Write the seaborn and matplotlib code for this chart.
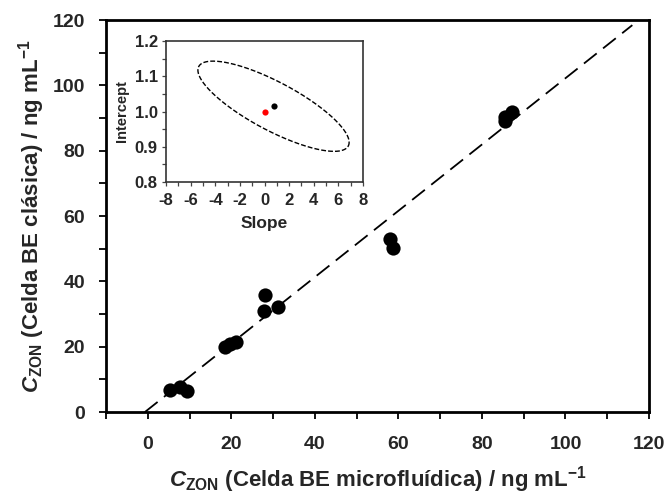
import numpy as np
import pandas as pd
import matplotlib
matplotlib.use("Agg")
import matplotlib.pyplot as plt
from matplotlib.ticker import MultipleLocator
import seaborn as sns

# Paired determinations: microfluidic cell (x) vs classic cell (y), ng/mL
micro = [5.3, 7.7, 9.3, 18.5, 19.6, 21.0, 28.0, 27.8, 31.1, 58.0, 58.7, 85.5, 85.4, 87.3]
clasica = [6.8, 7.7, 6.5, 20.0, 20.8, 21.5, 35.8, 31.0, 32.1, 53.0, 50.2, 89.0, 90.4, 91.8]

# Fitted regression line (slope, intercept)
fit_slope = 1.015
fit_intercept = 0.7
line_x_range = [-0.7, 116.0]

# Inset: joint confidence region (centre, half-widths, correlation)
ell_center_x = 0.73
ell_center_y = 1.015
ell_half_x = 6.14
ell_half_y = 0.128
ell_corr = -0.80
ideal_point = (0.0, 1.0)

sns.set_theme(style="ticks")
plt.rcParams["font.family"] = ["Liberation Sans", "DejaVu Sans"]
plt.rcParams["font.weight"] = "bold"
plt.rcParams["axes.unicode_minus"] = False
plt.rcParams["mathtext.fontset"] = "custom"
plt.rcParams["mathtext.rm"] = "Liberation Sans:bold"
plt.rcParams["mathtext.bf"] = "Liberation Sans:bold"
plt.rcParams["mathtext.it"] = "Liberation Sans:italic:bold"
plt.rcParams["mathtext.sf"] = "Liberation Sans:bold"

fig = plt.figure(figsize=(6.68, 5.01), dpi=100)
ax = fig.add_axes([0.1587, 0.1776, 0.8129, 0.7824])

df = pd.DataFrame({"micro": micro, "clasica": clasica})
sns.scatterplot(data=df, x="micro", y="clasica", ax=ax, color="black",
                s=105, edgecolor="black", linewidth=0, zorder=3)

lx = np.array(line_x_range)
ly = fit_intercept + fit_slope * lx
sns.lineplot(x=lx, y=ly, ax=ax, color="black", linewidth=1.3,
             dashes=False, zorder=2)
ax.lines[-1].set_dashes((9, 4.5))

ax.set_xlim(-10, 120)
ax.set_ylim(0, 120)
ax.xaxis.set_major_locator(MultipleLocator(20))
ax.xaxis.set_minor_locator(MultipleLocator(10))
ax.yaxis.set_major_locator(MultipleLocator(20))
ax.yaxis.set_minor_locator(MultipleLocator(10))
ax.tick_params(axis="both", which="both", direction="out", length=5,
               width=1.3, color="black", labelsize=14, pad=10)
ax.tick_params(axis="x", which="major", pad=12)
for lab in ax.get_xticklabels() + ax.get_yticklabels():
    lab.set_fontweight("bold")
for sp in ax.spines.values():
    sp.set_linewidth(2.0)
    sp.set_color("black")

ax.set_xlabel(r"$\mathit{C}_{\mathrm{ZON}}$ (Celda BE microfluídica) / ng mL$^{\mathrm{-1}}$",
              fontsize=16, fontweight="bold", labelpad=8)
ax.set_ylabel(r"$\mathit{C}_{\mathrm{ZON}}$ (Celda BE clásica) / ng mL$^{\mathrm{-1}}$",
              fontsize=16, fontweight="bold", labelpad=4)

# Inset with the slope/intercept joint confidence region
ins = fig.add_axes([0.2485, 0.6367, 0.295, 0.2814])
t = np.linspace(0, 2 * np.pi, 400)
psi = np.arccos(ell_corr)
ex = ell_center_x + ell_half_x * np.cos(t)
ey = ell_center_y + ell_half_y * np.cos(t + psi)
ins.plot(ex, ey, color="black", linewidth=1.0, dashes=(3.5, 1.5))
sns.scatterplot(x=[ell_center_x], y=[ell_center_y], ax=ins, color="black",
                s=20, linewidth=0, zorder=3)
sns.scatterplot(x=[ideal_point[0]], y=[ideal_point[1]], ax=ins, color="red",
                s=20, linewidth=0, zorder=3)

ins.set_xlim(-8, 8)
ins.set_ylim(0.8, 1.2)
ins.xaxis.set_major_locator(MultipleLocator(2))
ins.xaxis.set_minor_locator(MultipleLocator(1))
ins.yaxis.set_minor_locator(MultipleLocator(0.05))
ins.set_yticks([0.8, 0.9, 1.0, 1.1, 1.2])
ins.set_yticklabels(["0.8", "0.9", "1.0", "1.1", "1.2"])
ins.tick_params(axis="both", which="both", direction="out", length=3,
                width=0.9, color="#444444", labelsize=12, pad=3)
ins.tick_params(axis="x", which="major", pad=5)
for lab in ins.get_xticklabels() + ins.get_yticklabels():
    lab.set_fontweight("bold")
for sp in ins.spines.values():
    sp.set_linewidth(1.2)
    sp.set_color("#333333")
ins.set_xlabel("Slope", fontsize=12.5, fontweight="bold", labelpad=6)
ins.set_ylabel("Intercept", fontsize=10.5, fontweight="bold", labelpad=4)

fig.savefig("out.png", dpi=100)
